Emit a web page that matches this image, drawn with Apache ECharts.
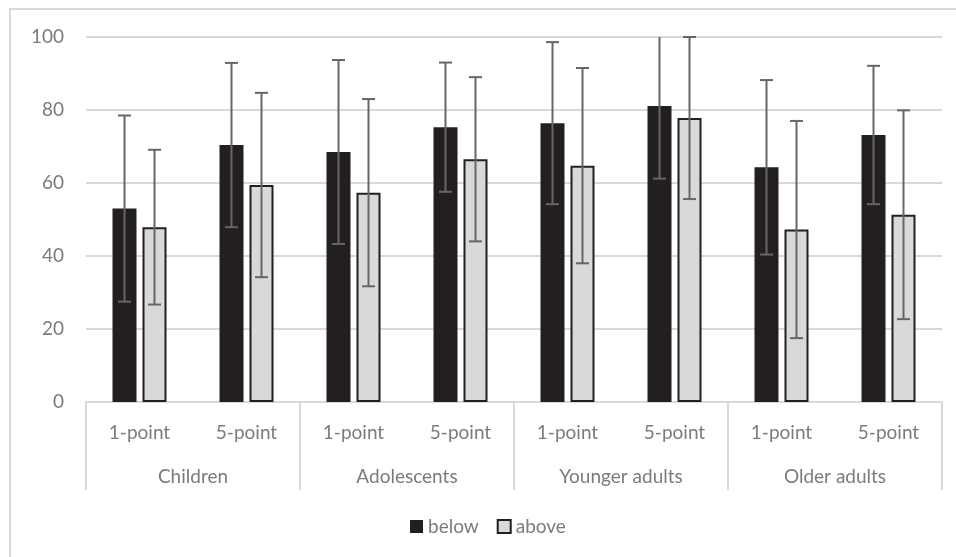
<!DOCTYPE html>
<html>
<head>
<meta charset="utf-8">
<script src="https://cdn.jsdelivr.net/npm/echarts@6/dist/echarts.min.js"></script>
<style>
  html, body { margin: 0; padding: 0; background: #ffffff; }
  #chart { width: 956px; height: 557px; }
</style>
</head>
<body>
<div id="chart"></div>
<script>
// Scale points within each age group
const scales = ['1-point', '5-point', '1-point', '5-point', '1-point', '5-point', '1-point', '5-point'];
const groups = ['Children', 'Adolescents', 'Younger adults', 'Older adults'];
const seriesNames = ['below', 'above'];

// Means and standard deviations
const belowMean = [53.0, 70.4, 68.5, 75.3, 76.4, 81.1, 64.3, 73.15];
const belowSD   = [25.5, 22.5, 25.2, 17.7, 22.2, 19.9, 23.9, 18.95];
const aboveMean = [47.9, 59.45, 57.35, 66.5, 64.75, 77.8, 47.25, 51.3];
const aboveSD   = [21.2, 25.25, 25.65, 22.5, 26.75, 22.2, 29.75, 28.6];

const yTicks = { min: 0, max: 100, interval: 20 };

const FONT = 'Lato, "Open Sans", sans-serif';
const FONT_SIZE = 19;
const TEXT = '#7b7b7b';
const LINE = '#d9d9d9';
const BAR_W = 24;
const BAR_GAP_PX = 6;

const chart = echarts.init(document.getElementById('chart'), null, { renderer: 'canvas' });

// Error bar renderer: whiskers clipped at the axis maximum, cap omitted when clipped
function errorBars(means, sds, offset) {
  return {
    type: 'custom',
    xAxisIndex: 0,
    yAxisIndex: 0,
    z: 5,
    silent: true,
    data: means.map((m, i) => [i, m, sds[i]]),
    renderItem: function (params, api) {
      const i = api.value(0), m = api.value(1), sd = api.value(2);
      const hiVal = m + sd, loVal = Math.max(m - sd, yTicks.min);
      const top = api.coord([i, Math.min(hiVal, yTicks.max)]);
      const bot = api.coord([i, loVal]);
      const x = top[0] + offset;
      const style = { stroke: '#666666', lineWidth: 2 };
      const half = 6.5;
      const children = [
        { type: 'line', shape: { x1: x, y1: top[1], x2: x, y2: bot[1] }, style: style },
        { type: 'line', shape: { x1: x - half, y1: bot[1], x2: x + half, y2: bot[1] }, style: style }
      ];
      if (hiVal <= yTicks.max + 1e-9) {
        children.push({ type: 'line', shape: { x1: x - half, y1: top[1], x2: x + half, y2: top[1] }, style: style });
      }
      return { type: 'group', children: children };
    }
  };
}

const offset = (BAR_W + BAR_GAP_PX) / 2;

chart.setOption({
  animation: false,
  backgroundColor: '#ffffff',
  graphic: [{
    type: 'rect',
    shape: { x: 10, y: 9, width: 960, height: 560 },
    style: { fill: 'none', stroke: '#d9d9d9', lineWidth: 2 },
    z: -10
  }],
  grid: { left: 86, right: 14, top: 37, bottom: 155, containLabel: false },
  legend: {
    data: seriesNames,
    top: 512,
    left: 405,
    itemWidth: 13,
    itemHeight: 13,
    itemGap: 18,
    icon: 'rect',
    textStyle: { fontFamily: FONT, fontSize: FONT_SIZE, color: TEXT }
  },
  xAxis: [
    {
      type: 'category',
      data: scales,
      position: 'bottom',
      axisLine: { show: true, lineStyle: { color: LINE, width: 2 } },
      axisTick: { show: false },
      axisLabel: { fontFamily: FONT, fontSize: FONT_SIZE, color: TEXT, margin: 21, interval: 0 },
      splitLine: { show: false }
    },
    {
      type: 'category',
      data: groups,
      position: 'bottom',
      offset: 0,
      boundaryGap: true,
      axisLine: { show: false },
      axisTick: { show: true, length: 88, inside: false, interval: 0, lineStyle: { color: LINE, width: 2 } },
      axisLabel: { fontFamily: FONT, fontSize: FONT_SIZE, color: TEXT, margin: 65, interval: 0 },
      splitLine: { show: false }
    }
  ],
  yAxis: {
    type: 'value',
    min: yTicks.min,
    max: yTicks.max,
    interval: yTicks.interval,
    axisLine: { show: false },
    axisTick: { show: false },
    axisLabel: { fontFamily: FONT, fontSize: FONT_SIZE, color: TEXT, margin: 22 },
    splitLine: { lineStyle: { color: LINE, width: 2 } }
  },
  series: [
    {
      name: 'below',
      type: 'bar',
      data: belowMean,
      barWidth: BAR_W,
      barGap: (BAR_GAP_PX / BAR_W * 100) + '%',
      itemStyle: { color: '#231f20' }
    },
    {
      name: 'above',
      type: 'bar',
      data: aboveMean,
      barWidth: BAR_W,
      barGap: (BAR_GAP_PX / BAR_W * 100) + '%',
      itemStyle: { color: '#d9d9db', borderColor: '#231f20', borderWidth: 2 }
    },
    errorBars(belowMean, belowSD, -offset),
    errorBars(aboveMean, aboveSD, offset)
  ]
});
</script>
</body>
</html>
